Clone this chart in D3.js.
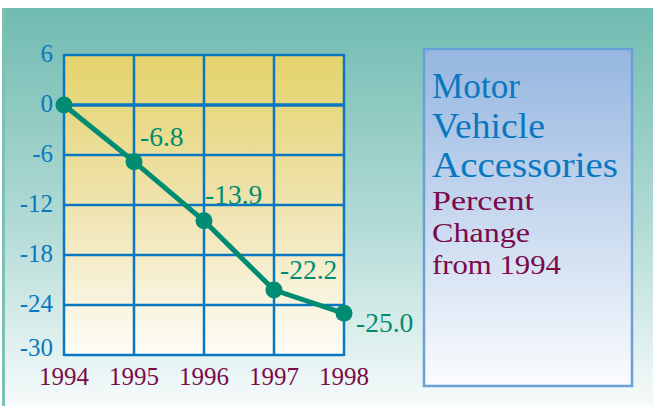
<!DOCTYPE html>
<html>
<head>
<meta charset="utf-8">
<script src="https://cdn.jsdelivr.net/npm/d3@7"></script>
<style>
  body { margin: 0; background: #fff; }
  svg { display: block; }
  text { font-family: "Liberation Serif", "DejaVu Serif", serif; }
</style>
</head>
<body>
<svg width="653" height="406"></svg>
<script>
var svg = d3.select("svg");

var years = [1994, 1995, 1996, 1997, 1998];
var change = [0, -6.8, -13.9, -22.2, -25.0];
var pointLabels = ["", "-6.8", "-13.9", "-22.2", "-25.0"];
var yTicks = [6, 0, -6, -12, -18, -24, -30];
var titleLines = ["Motor", "Vehicle", "Accessories"];
var subLines = ["Percent", "Change", "from 1994"];

var GridColor = "#0a78c0";
var LineColor = "#008c72";
var YearColor = "#7a0a4a";

var defs = svg.append("defs");
var bg = defs.append("linearGradient").attr("id", "bg").attr("x1", 0).attr("y1", 0).attr("x2", 0).attr("y2", 1);
bg.append("stop").attr("offset", "0%").attr("stop-color", "#70bbb1");
bg.append("stop").attr("offset", "55%").attr("stop-color", "#b3dbd6");
bg.append("stop").attr("offset", "100%").attr("stop-color", "#f6fbfb");

var plotBg = defs.append("linearGradient").attr("id", "plotbg").attr("x1", 0).attr("y1", 0).attr("x2", 0).attr("y2", 1);
plotBg.append("stop").attr("offset", "0%").attr("stop-color", "#e4d36a");
plotBg.append("stop").attr("offset", "50%").attr("stop-color", "#efe3ae");
plotBg.append("stop").attr("offset", "100%").attr("stop-color", "#fefdf8");

var boxBg = defs.append("linearGradient").attr("id", "boxbg").attr("x1", 0).attr("y1", 0).attr("x2", 0).attr("y2", 1);
boxBg.append("stop").attr("offset", "0%").attr("stop-color", "#95b6e0");
boxBg.append("stop").attr("offset", "100%").attr("stop-color", "#fbfcfe");

// page background
svg.append("rect").attr("x", 2).attr("y", 8).attr("width", 651).attr("height", 398).attr("fill", "url(#bg)");
svg.append("rect").attr("x", 2).attr("y", 8).attr("width", 3).attr("height", 398).attr("fill", "#7cc0b6");

var x = d3.scaleLinear().domain([1994, 1998]).range([64, 344]);
var y = d3.scaleLinear().domain([-30, 6]).range([355, 55]);

// plot area
svg.append("rect")
    .attr("x", x(1994)).attr("y", y(6))
    .attr("width", x(1998) - x(1994)).attr("height", y(-30) - y(6))
    .attr("fill", "url(#plotbg)");

var grid = svg.append("g").attr("class", "grid");
grid.selectAll("line.h")
    .data(yTicks)
    .enter().append("line")
    .attr("class", "h")
    .attr("x1", x(1994)).attr("x2", x(1998))
    .attr("y1", function (d) { return y(d); })
    .attr("y2", function (d) { return y(d); })
    .attr("stroke", GridColor)
    .attr("stroke-width", function (d) { return d === 0 ? 3.5 : 2.5; });

grid.selectAll("line.v")
    .data(years)
    .enter().append("line")
    .attr("class", "v")
    .attr("x1", function (d) { return x(d); })
    .attr("x2", function (d) { return x(d); })
    .attr("y1", y(6) - 1).attr("y2", y(-30) + 1)
    .attr("stroke", GridColor)
    .attr("stroke-width", 2.5);

// y tick labels (bottom one sits a bit higher, as in the original)
svg.append("g").selectAll("text")
    .data(yTicks)
    .enter().append("text")
    .attr("x", 53)
    .attr("y", function (d) { return Math.min(y(d) + 7, 356); })
    .attr("text-anchor", "end")
    .attr("font-size", 25)
    .attr("fill", GridColor)
    .text(function (d) { return d; });

// year labels
svg.append("g").selectAll("text")
    .data(years)
    .enter().append("text")
    .attr("x", function (d) { return x(d); })
    .attr("y", 385)
    .attr("text-anchor", "middle")
    .attr("font-size", 25)
    .attr("fill", YearColor)
    .text(function (d) { return d; });

// data line
var pts = years.map(function (d, i) { return { year: d, value: change[i], label: pointLabels[i] }; });

svg.append("path")
    .datum(pts)
    .attr("d", d3.line().x(function (d) { return x(d.year); }).y(function (d) { return y(d.value); }))
    .attr("fill", "none")
    .attr("stroke", LineColor)
    .attr("stroke-width", 5)
    .attr("stroke-linejoin", "round");

svg.append("g").selectAll("circle")
    .data(pts)
    .enter().append("circle")
    .attr("cx", function (d) { return x(d.year); })
    .attr("cy", function (d) { return y(d.value); })
    .attr("r", 8.5)
    .attr("fill", LineColor);

// value labels
var labelOffsets = [[0, 0], [6, -16], [1, -17], [6, -11], [12, 19]];
svg.append("g").selectAll("text")
    .data(pts)
    .enter().append("text")
    .attr("x", function (d, i) { return x(d.year) + labelOffsets[i][0]; })
    .attr("y", function (d, i) { return y(d.value) + labelOffsets[i][1]; })
    .attr("font-size", 27.5)
    .attr("fill", LineColor)
    .text(function (d) { return d.label; });

// title box
svg.append("rect")
    .attr("x", 424).attr("y", 49)
    .attr("width", 208).attr("height", 337)
    .attr("fill", "url(#boxbg)")
    .attr("stroke", "#6b9fd8")
    .attr("stroke-width", 2.5);

var titleWidths = [88, 113, 186];
var subWidths = [102, 98, 129];

svg.append("g").selectAll("text")
    .data(titleLines)
    .enter().append("text")
    .attr("x", 432)
    .attr("y", function (d, i) { return 98 + i * 39.5; })
    .attr("font-size", 35)
    .attr("fill", GridColor)
    .attr("textLength", function (d, i) { return titleWidths[i]; })
    .attr("lengthAdjust", "spacingAndGlyphs")
    .text(function (d) { return d; });

svg.append("g").selectAll("text")
    .data(subLines)
    .enter().append("text")
    .attr("x", 432)
    .attr("y", function (d, i) { return 210 + i * 32; })
    .attr("font-size", 28)
    .attr("fill", YearColor)
    .attr("textLength", function (d, i) { return subWidths[i]; })
    .attr("lengthAdjust", "spacingAndGlyphs")
    .text(function (d) { return d; });
</script>
</body>
</html>
